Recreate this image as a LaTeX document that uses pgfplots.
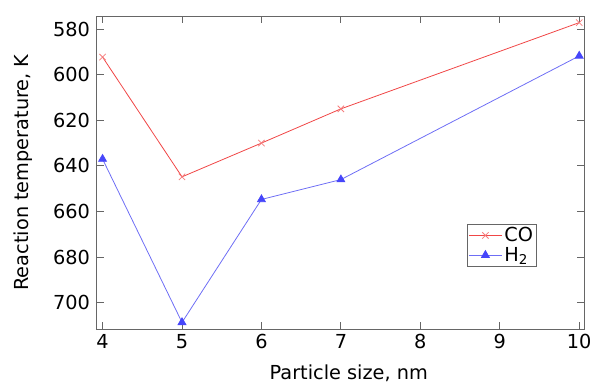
\documentclass[border=0pt]{standalone}
\usepackage{fontspec}
\setmainfont{DejaVu Sans}
\usepackage{pgfplots}
\pgfplotsset{compat=1.18}
\definecolor{cored}{RGB}{240,70,70}
\definecolor{hblue}{RGB}{110,110,245}
\definecolor{hmark}{RGB}{70,70,250}
\begin{document}
\begin{tikzpicture}
\begin{axis}[
  scale only axis,
  width=487pt, height=313pt,
  font=\fontsize{19.3}{23}\selectfont,
  xmin=3.93, xmax=10.06,
  ymin=574.3, ymax=711.5,
  y dir=reverse,
  xtick={4,5,6,7,8,9,10},
  ytick={580,600,620,640,660,680,700},
  tick align=inside,
  major tick length=7pt,
  axis line style={draw=gray!80!black, line width=1pt},
  every tick/.style={gray!80!black, line width=0.8pt},
  /pgf/number format/assume math mode=true,
  /pgf/number format/1000 sep={},
  xticklabel style={yshift=-1.6pt},
  yticklabel style={xshift=-3.6pt},
  xlabel={Particle size, nm},
  ylabel={Reaction temperature, K},
  xlabel style={at={(axis description cs:0.517,0)}, anchor=base, yshift=-50.5pt},
  ylabel style={at={(axis description cs:0,0.5)}, anchor=base, yshift=68pt},
  legend style={at={(0.76,0.335)}, anchor=north west, draw=gray!80!black, line width=0.8pt, font=\fontsize{19.3}{20}\selectfont, inner sep=1pt, row sep=0pt},
  legend cell align=left,
  legend image code/.code={\draw[mark repeat=2,mark phase=2,#1] plot coordinates {(0cm,0cm) (0.58cm,0cm) (1.16cm,0cm)};},
]
\addplot[cored, line width=0.8pt, mark=x, mark size=4.5pt, mark options={cored!70}] coordinates {(4,592.3) (5,644.8) (6,630) (7,615) (10,577.2)};
\addlegendentry{CO}
\addplot[hblue, line width=0.8pt, mark=triangle*, mark size=4.5pt, mark options={hmark, draw=hmark, fill=hmark}] coordinates {(4,637) (5,708.6) (6,654.7) (7,646) (10,591.8)};
\addlegendentry{H\textsubscript{2}}
\end{axis}
\pgfresetboundingbox
\path ([xshift=-97pt,yshift=-54pt]current axis.south west) rectangle ([xshift=8pt,yshift=16pt]current axis.north east);
\end{tikzpicture}
\end{document}
